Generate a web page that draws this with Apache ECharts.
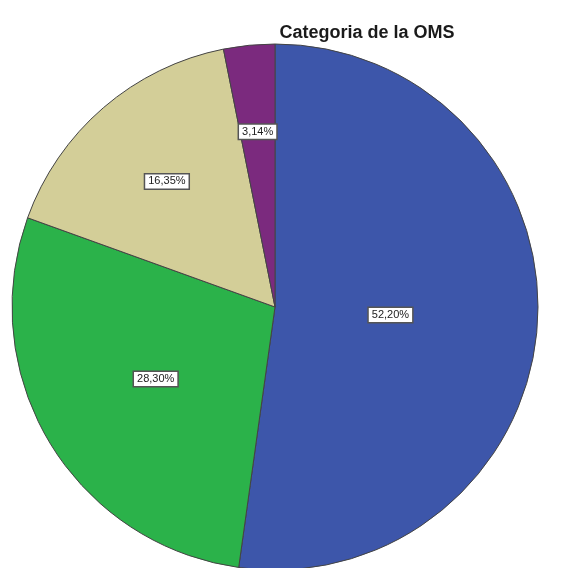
<!DOCTYPE html>
<html><head><meta charset="utf-8">
<script src="https://cdn.jsdelivr.net/npm/echarts@6/dist/echarts.min.js"></script>
<style>html,body{margin:0;padding:0;background:#fff}#c{width:583px;height:568px}</style>
</head><body><div id="c"></div>
<script>
const categories = ['Cat 1', 'Cat 2', 'Cat 3', 'Cat 4'];
const values = [52.20, 28.30, 16.35, 3.14];
const labels = ['52,20%', '28,30%', '16,35%', '3,14%'];
const colors = ['#3D56AA', '#2BB24A', '#D3CE98', '#7B2A7E'];
const labelRadiusFrac = [0.44, 0.53, 0.63, 0.67];

const CX = 275, CY = 307, R = 263;
const total = values.reduce((a, b) => a + b, 0);
const chart = echarts.init(document.getElementById('c'));
chart.setOption({
  animation: false,
  backgroundColor: '#fff',
  title: {
    text: 'Categoria de la OMS', left: 362, top: 19, textAlign: 'center',
    textStyle: { fontFamily: 'Liberation Sans, Arial', fontWeight: 'bold', fontSize: 18, color: '#1a1a1a' }
  },
  series: [{
    type: 'pie',
    center: [CX, CY],
    radius: [0, R],
    startAngle: 90,
    clockwise: true,
    itemStyle: { borderColor: '#444', borderWidth: 1 },
    label: {
      show: true, position: 'inside',
      formatter: p => labels[p.dataIndex],
      fontFamily: 'Liberation Sans, Arial', fontSize: 11, color: '#222',
      backgroundColor: '#fff', borderColor: '#555', borderWidth: 1.5, padding: [2, 3, 1, 3]
    },
    labelLine: { show: false },
    labelLayout: function (p) {
      const i = p.dataIndex;
      let cum = 0;
      for (let k = 0; k < i; k++) cum += values[k];
      const mid = (cum + values[i] / 2) / total * 2 * Math.PI;
      const f = labelRadiusFrac[i] * R;
      return { x: CX + Math.sin(mid) * f, y: CY - Math.cos(mid) * f, align: 'center', verticalAlign: 'middle' };
    },
    emphasis: { disabled: true },
    data: categories.map((c, i) => ({ name: c, value: values[i], itemStyle: { color: colors[i] } }))
  }]
});
</script></body></html>
